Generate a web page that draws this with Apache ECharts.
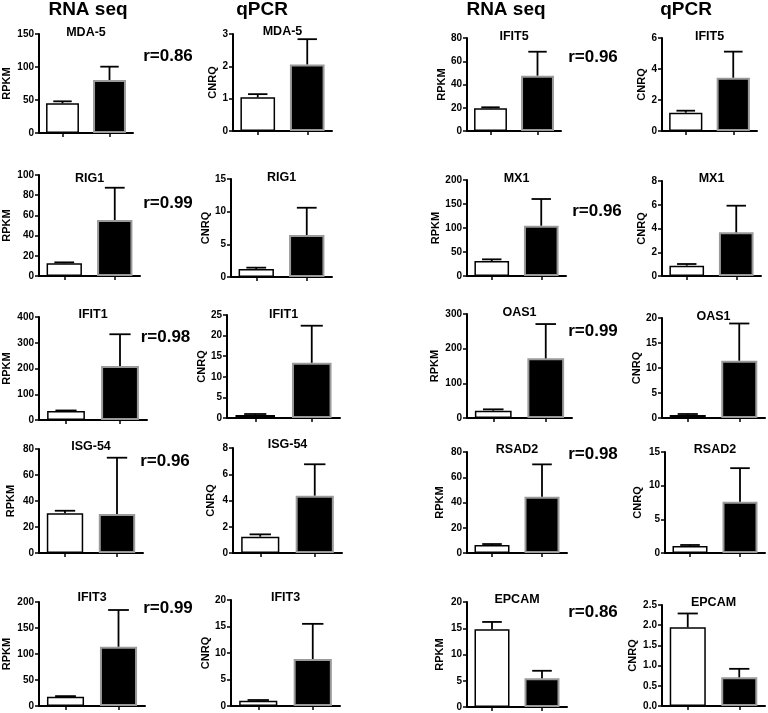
<!DOCTYPE html>
<html>
<head>
<meta charset="utf-8">
<script src="https://cdn.jsdelivr.net/npm/echarts@6/dist/echarts.min.js"></script>
<style>html,body{margin:0;padding:0;background:#fff;}#chart{width:768px;height:713px;}</style>
</head>
<body>
<div id="chart"></div>
<script>
// ---------- data ----------
const genes = ['MDA-5','RIG1','IFIT1','ISG-54','IFIT3','IFIT5','MX1','OAS1','RSAD2','EPCAM'];
const rValues = ['0.86','0.99','0.98','0.96','0.99','0.96','0.96','0.99','0.98','0.86'];
const rnaCtrl    = [45, 12.6, 35, 30.5, 17.9, 19.5, 31, 21, 6.3, 14.8];
const rnaCtrlUp  = [48, 13.5, 37, 32.5, 19, 20.4, 34.7, 25, 7.1, 16.2];
const rnaTreat   = [80.3, 55.4, 210, 30, 114, 47.6, 104.8, 172, 44.6, 5.5];
const rnaTreatUp = [100.5, 87.4, 333, 73.3, 184.6, 68.2, 160.4, 271, 70.2, 6.9];
const qCtrl      = [1.04, 1.22, 0.73, 1.24, 1.0, 1.18, 0.87, 0.6, 1.04, 1.95];
const qCtrlUp    = [1.14, 1.43, 0.97, 1.42, 1.13, 1.31, 1.01, 0.8, 1.19, 2.29];
const qTreat     = [2.06, 6.43, 13.4, 4.37, 8.87, 3.44, 3.68, 11.46, 7.6, 0.71];
const qTreatUp   = [2.84, 10.6, 22.4, 6.76, 15.5, 5.12, 5.92, 18.9, 12.6, 0.92];
const rnaMax = [150, 100, 400, 80, 200, 80, 200, 300, 80, 20];
const rnaInterval = [50, 20, 100, 20, 50, 20, 50, 100, 20, 5];
const qMax = [3, 15, 25, 8, 20, 6, 8, 20, 15, 2.5];
const qInterval = [1, 5, 5, 2, 5, 2, 2, 5, 5, 0.5];
const groups = ['ctrl', 'treat'];
const headers = ['RNA seq', 'qPCR', 'RNA seq', 'qPCR'];

// ---------- layout (rows x 4 columns) ----------
const plotLeft   = [[39,233,467,662],[39,231,467,662],[39,227,467,662],[39,233,467,665],[39,231,467,662]];
const plotRight  = [[133,332,561,757],[140,332,566,761],[147,340,572,765],[143,342,567,765],[145,340,567,765]];
const plotTop    = [[34,34,38,38],[175,179,180,181],[317,315,314,318],[449,448,452,452],[602,600,602,605]];
const plotBottom = [[133,131,131,131],[276,277,276,276],[420,418,418,418],[553,553,553,553],[706,706,707,706]];
const titleY     = [[33,32,36.5,36.5],[179,178,179,179],[315,315,313,317],[447,445,450,450],[598,598,600,603]];
const nameX      = [[7,214,442,646],[6.5,216,437,647],[7,209,435,640],[11,211,440,638],[7,206,440,633]];
const rPos       = [[[168,56],[593,57.5]],[[168,203],[597,211]],[[165.5,337.5],[593,331]],[[165,461.7],[593,454.5]],[[168,608],[593,612.5]]];
const headerX = [88, 262, 506, 686];
const headerY = 10;

const FONT = '"Liberation Sans", Arial, Helvetica, sans-serif';

const grid = [], xAxis = [], yAxis = [], series = [], graphic = [];

headers.forEach((h, i) => {
  graphic.push({type:'text', x: headerX[i], y: headerY, style:{text:h, font:'bold 19px ' + FONT, fill:'#000', align:'center', verticalAlign:'middle'}});
});

function errRender(params, api) {
  const idx = api.value(0);
  const top = api.coord([idx, api.value(2)]);
  const base = api.coord([idx, api.value(1)]);
  const bw = api.size([1, 0])[0] * 0.7;
  const half = bw * 0.28;
  const st = {stroke:'#000', lineWidth:1.8};
  return {type:'group', children:[
    {type:'line', shape:{x1:top[0], y1:base[1], x2:top[0], y2:top[1]}, style:st},
    {type:'line', shape:{x1:top[0]-half, y1:top[1], x2:top[0]+half, y2:top[1]}, style:st}
  ]};
}

function addPanel(g, isQ) {
  const row = g % 5, side = g < 5 ? 0 : 1;
  const col = side * 2 + (isQ ? 1 : 0);
  const L = plotLeft[row][col], R = plotRight[row][col], T = plotTop[row][col], B = plotBottom[row][col];
  const idx = grid.length;
  grid.push({left:L, top:T, width:R-L, height:B-T, containLabel:false});
  xAxis.push({type:'category', gridIndex:idx, data:groups, boundaryGap:true,
    axisLine:{lineStyle:{color:'#000', width:2}},
    axisTick:{show:true, alignWithLabel:true, length:4, lineStyle:{color:'#000', width:1.5}},
    axisLabel:{show:false}, splitLine:{show:false}});
  const max = isQ ? qMax[g] : rnaMax[g];
  const interval = isQ ? qInterval[g] : rnaInterval[g];
  const decimals = (interval < 1) ? 1 : 0;
  yAxis.push({type:'value', gridIndex:idx, min:0, max:max, interval:interval,
    name: isQ ? 'CNRQ' : 'RPKM', nameLocation:'middle', nameRotate:90,
    nameGap: L - nameX[row][col] - 5.5,
    nameTextStyle:{fontFamily:FONT, fontWeight:'bold', fontSize:11, color:'#000'},
    axisLine:{show:true, lineStyle:{color:'#000', width:2}},
    axisTick:{show:true, length:4, lineStyle:{color:'#000', width:1.5}},
    axisLabel:{fontFamily:FONT, fontWeight:'bold', fontSize:10, color:'#000', margin:5,
      formatter: v => Number(v).toFixed(decimals)},
    splitLine:{show:false}});
  const c = isQ ? qCtrl[g] : rnaCtrl[g];
  const cu = isQ ? qCtrlUp[g] : rnaCtrlUp[g];
  const t = isQ ? qTreat[g] : rnaTreat[g];
  const tu = isQ ? qTreatUp[g] : rnaTreatUp[g];
  series.push({type:'bar', xAxisIndex:idx, yAxisIndex:idx, barWidth:'70%', silent:true,
    data:[
      {value:c, itemStyle:{color:'#fff', borderColor:'#000', borderWidth:1.5}},
      {value:t, itemStyle:{color:'#000', borderColor:'#9a9a9a', borderWidth:2}}
    ], z:2});
  series.push({type:'custom', xAxisIndex:idx, yAxisIndex:idx, renderItem:errRender, clip:false, silent:true, z:3,
    encode:{x:0, y:2},
    data:[[0, c, cu], [1, t, tu]]});
  graphic.push({type:'text', x:(L+R)/2, y:titleY[row][col], z:10,
    style:{text:genes[g], font:'bold 12.5px ' + FONT, fill:'#000', align:'center', verticalAlign:'middle'}});
  if (!isQ) {
    const p = rPos[row][side];
    graphic.push({type:'text', x:p[0], y:p[1], z:10,
      style:{text:'r=' + rValues[g], font:'bold 17px ' + FONT, fill:'#000', align:'center', verticalAlign:'middle'}});
  }
}

for (let g = 0; g < genes.length; g++) { addPanel(g, false); addPanel(g, true); }

const chart = echarts.init(document.getElementById('chart'), null, {renderer:'canvas'});
chart.setOption({animation:false, backgroundColor:'#fff', grid, xAxis, yAxis, series, graphic});
</script>
</body>
</html>
